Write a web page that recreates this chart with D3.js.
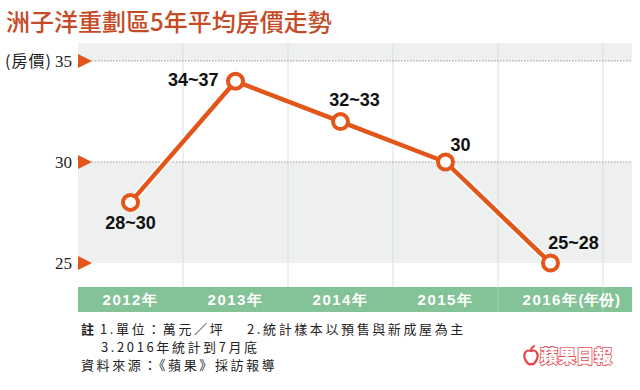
<!DOCTYPE html>
<html lang="zh-Hant">
<head>
<meta charset="UTF-8">
<title>洲子洋重劃區5年平均房價走勢</title>
<script src="https://d3js.org/d3.v7.min.js"></script>
<style>
  body { margin: 0; background: #fff; }
  svg { display: block; }
</style>
</head>
<body>
<svg width="640" height="390"></svg>
<script>
// data
const years = ["2012", "2013", "2014", "2015", "2016"];
const values = [28, 34, 32, 30, 25];
const labels = ["28~30", "34~37", "32~33", "30", "25~28"];
const yTicks = [35, 30, 25];
const notes = ["1.單位：萬元／坪", "2.統計樣本以預售與新成屋為主", "3.2016年統計到7月底"];

const orange = "#e2561a", green = "#84c397", band = "#edf0ee";
const sans = "'Liberation Sans', Arial, sans-serif";
const cjk = "'Noto Sans CJK TC', 'Noto Sans', sans-serif";

const svg = d3.select("svg");
const plotL = 78, plotR = 632, plotT = 43;

const x = d3.scaleBand().domain(years).range([plotL, 603]);
const y = d3.scaleLinear().domain([25, 35]).range([263, 61]);
const cx = d => x(d) + x.bandwidth() / 2;

// title
svg.append("text")
  .attr("x", 6).attr("y", 31)
  .attr("font-family", cjk).attr("font-size", 24).attr("font-weight", 500)
  .attr("fill", "#c54b26")
  .text("洲子洋重劃區5年平均房價走勢");

// background bands
svg.append("rect").attr("x", plotL).attr("y", plotT)
  .attr("width", plotR - plotL).attr("height", y(35) - plotT).attr("fill", band);
svg.append("rect").attr("x", plotL).attr("y", y(30))
  .attr("width", plotR - plotL).attr("height", y(25) - y(30)).attr("fill", band);

// vertical grid
svg.append("g").selectAll("line").data(years).join("line")
  .attr("x1", d => x(d) + x.bandwidth()).attr("x2", d => x(d) + x.bandwidth())
  .attr("y1", plotT).attr("y2", 294)
  .attr("stroke", "#dcdfdd").attr("stroke-width", 1);

// x axis band
svg.append("rect").attr("x", plotL).attr("y", 287)
  .attr("width", plotR - plotL).attr("height", 25).attr("fill", green);
svg.append("g").selectAll("line").data(years.slice(3)).join("line")
  .attr("x1", d => x(d) + x.bandwidth()).attr("x2", d => x(d) + x.bandwidth())
  .attr("y1", 287).attr("y2", 312)
  .attr("stroke", "#a9d6b6").attr("stroke-width", 1);

const xl = svg.append("g").selectAll("text").data(years).join("text")
  .attr("x", d => cx(d)).attr("y", 305)
  .attr("text-anchor", "middle")
  .attr("font-family", sans).attr("font-size", 15).attr("font-weight", "bold")
  .attr("letter-spacing", 1.5)
  .attr("fill", "#fff")
  .text(d => d + "年");
// unit after last year label
const lastW = xl.filter(d => d === "2016").node().getComputedTextLength();
svg.append("text")
  .attr("x", cx("2016") + lastW / 2).attr("y", 305)
  .attr("font-family", sans).attr("font-size", 15).attr("font-weight", "bold")
  .attr("letter-spacing", 0.5)
  .attr("fill", "#fff")
  .text("(年份)");

// dotted reference lines
svg.append("g").selectAll("line").data([35, 30]).join("line")
  .attr("x1", plotL + 14).attr("x2", plotR)
  .attr("y1", d => y(d)).attr("y2", d => y(d))
  .attr("stroke", "#9a9a9a").attr("stroke-width", 1)
  .attr("stroke-dasharray", "1.5,1.5");

// tick triangles + labels
svg.append("g").selectAll("path").data(yTicks).join("path")
  .attr("d", d => `M${plotL},${y(d) - 7}L${plotL + 14},${y(d)}L${plotL},${y(d) + 7}Z`)
  .attr("fill", orange);
svg.append("g").selectAll("text").data(yTicks).join("text")
  .attr("x", 72).attr("y", d => y(d) + 6)
  .attr("text-anchor", "end")
  .attr("font-family", "'Liberation Serif', serif").attr("font-size", 17)
  .attr("fill", "#222")
  .text(d => d);
svg.append("text")
  .attr("x", 5).attr("y", y(35) + 6)
  .attr("font-family", cjk).attr("font-size", 16).attr("letter-spacing", 1)
  .attr("fill", "#222")
  .text("(房價)");

// line
const line = d3.line().x((d, i) => cx(years[i])).y(d => y(d));
svg.append("path").datum(values)
  .attr("d", line).attr("fill", "none")
  .attr("stroke", "#fff").attr("stroke-width", 8);
svg.append("path").datum(values)
  .attr("d", line).attr("fill", "none")
  .attr("stroke", orange).attr("stroke-width", 4.5)
  .attr("stroke-linejoin", "round");
svg.append("g").selectAll("circle").data(values).join("circle")
  .attr("cx", (d, i) => cx(years[i])).attr("cy", d => y(d))
  .attr("r", 7.5)
  .attr("fill", "#fff").attr("stroke", orange).attr("stroke-width", 4);

// value labels
const pos = [
  { dx: 0, dy: 27, a: "middle" },
  { dx: -17, dy: 5, a: "end" },
  { dx: 14, dy: -16, a: "middle" },
  { dx: 15, dy: -11, a: "middle" },
  { dx: 23, dy: -14, a: "middle" }
];
svg.append("g").selectAll("text").data(values).join("text")
  .attr("x", (d, i) => cx(years[i]) + pos[i].dx)
  .attr("y", (d, i) => y(d) + pos[i].dy)
  .attr("text-anchor", (d, i) => pos[i].a)
  .attr("font-family", sans).attr("font-size", 18).attr("font-weight", "bold")
  .attr("fill", "#111")
  .text((d, i) => labels[i]);

// notes
const nt = svg.append("g").attr("font-family", cjk).attr("font-size", 13)
  .attr("letter-spacing", 2.6).attr("fill", "#222");
nt.append("text").attr("x", 81).attr("y", 334).attr("font-weight", "bold").text("註");
nt.append("text").attr("x", 100).attr("y", 334).text(notes[0]);
nt.append("text").attr("x", 247).attr("y", 334).text(notes[1]);
nt.append("text").attr("x", 101).attr("y", 352).text(notes[2]);
nt.append("text").attr("x", 81).attr("y", 370).text("資料來源：《蘋果》採訪報導");

// logo
const logo = svg.append("g").attr("transform", "translate(524,346)");
logo.append("path")
  .attr("d", "M7,5 C2,3 -1,8 1,13 C3,18 6,19 7,18 C8,19 11,18 13,13 C15,8 12,3 7,5 Z M7,5 C7,2 9,0 11,0")
  .attr("fill", "#fff").attr("stroke", "#e4474f").attr("stroke-width", 2.2);
logo.append("text")
  .attr("x", 16).attr("y", 17)
  .attr("font-family", cjk).attr("font-size", 18).attr("font-weight", 900)
  .attr("fill", "#fff").attr("stroke", "#e4474f").attr("stroke-width", 1.6)
  .attr("paint-order", "stroke")
  .text("蘋果日報");
</script>
</body>
</html>
